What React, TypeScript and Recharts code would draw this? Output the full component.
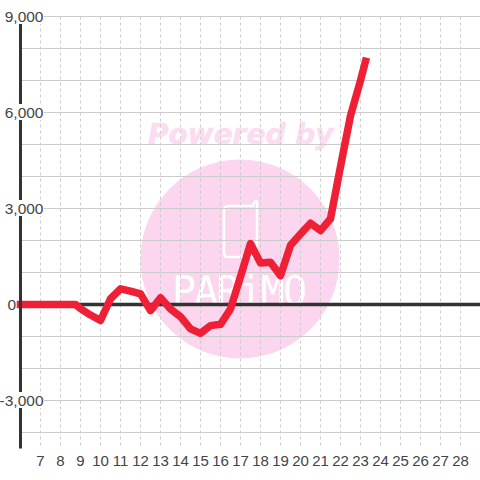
import { LineChart, Line, XAxis, YAxis, CartesianGrid, ReferenceLine } from 'recharts';

const days = [6, 6.5, 7, 7.5, 8, 8.5, 8.75, 9, 9.5, 10, 10.5, 11, 11.5, 12, 12.5, 13, 13.5, 14, 14.5, 15, 15.5, 16, 16.5, 17, 17.5, 18, 18.5, 19, 19.5, 20, 20.5, 21, 21.5, 22, 22.5, 23, 23.25];
const values = [0, 0, 0, 0, 0, 0, 0, -130, -330, -500, 180, 490, 420, 330, -190, 210, -140, -380, -760, -900, -660, -620, -140, 870, 1900, 1300, 1320, 900, 1850, 2200, 2540, 2310, 2680, 4310, 5900, 7000, 7600];
const xTicks = [7, 8, 9, 10, 11, 12, 13, 14, 15, 16, 17, 18, 19, 20, 21, 22, 23, 24, 25, 26, 27, 28];
const yTicks = [-4000, -3000, -2000, -1000, 0, 1000, 2000, 3000, 4000, 5000, 6000, 7000, 8000, 9000];
const yLabels = [-3000, 0, 3000, 6000, 9000];

const chartData = days.map((day, i) => ({ day, value: values[i] }));

const YTick = ({ y, payload }: any) => {
    if (!yLabels.includes(payload.value)) return null;
    if (payload.value === 0) {
        return <text x={16} y={y + 5.5} textAnchor="end" fontSize={15.5} fill="#444">0</text>;
    }
    return (
        <g>
            <rect x={3} y={y - 8.5} width={41} height={16} fill="#fff" />
            <text x={43.5} y={y + 5} textAnchor="end" fontSize={15.5} fill="#444">
                {payload.value.toLocaleString('en-US')}
            </text>
        </g>
    );
};

// watermark sits behind the chart
const Watermark = () => (
    <svg width={480} height={480} style={{ position: 'absolute', left: 0, top: 0 }}>
        <circle cx={240} cy={259} r={99.5} fill="#fbd6ee" />
        <text x={148} y={144} fontFamily="DejaVu Sans" fontWeight="bold" fontStyle="italic" fontSize={28} fill="#fcdcf0" stroke="#fcdcf0" strokeWidth={0.6}>
            Powered by
        </text>
        <path d="M229 206 H253 Q254 201 256 201 Q257 201 257 204 V254 Q257 257 254 257 H228 Q224 257 224 253 V210 Q224 206 229 206 Z" fill="none" stroke="#fff" strokeWidth={2.5} />
        <text x={172} y={305} fontFamily="DejaVu Sans Mono" fontSize={40} fill="#fff" textLength={135}>
            PARiMO
        </text>
    </svg>
);

export default function App() {
    return (
        <div style={{ position: 'fixed', left: 0, top: 0, width: 480, height: 480, overflow: 'hidden', fontFamily: 'Liberation Sans', background: '#fff' }}>
            <Watermark />
            <div style={{ position: 'absolute', left: 0, top: 0 }}>
                <LineChart width={480.5} height={480} data={chartData} margin={{ top: 16.5, right: 0, bottom: 0, left: 0 }}>
                    <CartesianGrid horizontal={false} stroke="#ccc" strokeDasharray="3 3" verticalValues={xTicks} />
                    <CartesianGrid vertical={false} stroke="#ccc" horizontalValues={yTicks} />
                    <XAxis
                        dataKey="day"
                        type="number"
                        domain={[6, 29]}
                        ticks={xTicks}
                        interval={0}
                        axisLine={false}
                        tickLine={false}
                        height={31.5}
                        tickMargin={1}
                        tick={{ fontSize: 15, fill: '#444' }}
                    />
                    <YAxis
                        type="number"
                        domain={[-4500, 9000]}
                        ticks={yTicks}
                        interval={0}
                        width={20.5}
                        axisLine={{ stroke: '#333', strokeWidth: 3 }}
                        tickLine={false}
                        tick={YTick}
                    />
                    <ReferenceLine y={0} stroke="#333" strokeWidth={3.5} />
                    <Line
                        dataKey="value"
                        type="linear"
                        stroke="#ef1f35"
                        strokeWidth={7.5}
                        strokeLinecap="square"
                        strokeLinejoin="round"
                        dot={false}
                        isAnimationActive={false}
                    />
                </LineChart>
            </div>
        </div>
    );
}
